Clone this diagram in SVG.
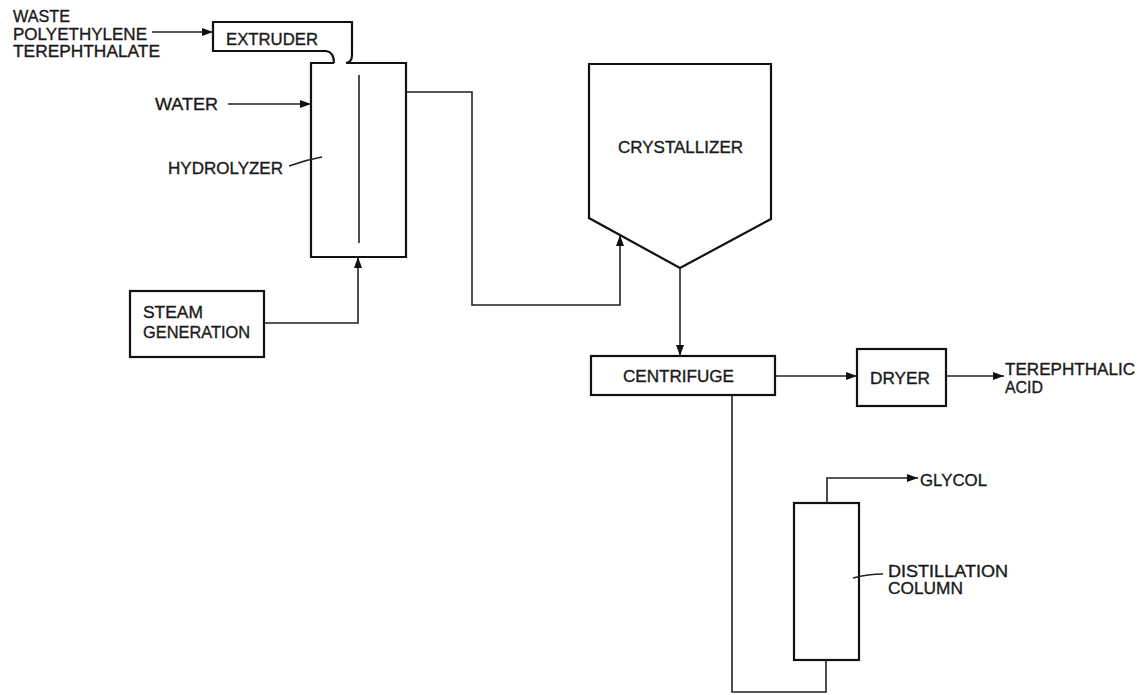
<svg xmlns="http://www.w3.org/2000/svg" width="1143" height="695" viewBox="0 0 1143 695">
<defs>
<style>
.box{fill:none;stroke:#111;stroke-width:2.2;stroke-linejoin:miter}
.ln{fill:none;stroke:#222;stroke-width:1.6}
.ld{fill:none;stroke:#222;stroke-width:1.4}
text{font-family:"Liberation Sans",Arial,sans-serif;font-size:16.5px;fill:#1a1a1a;stroke:#1a1a1a;stroke-width:0.35}
</style>
<marker id="ah" viewBox="0 0 11 8" refX="11" refY="4" markerWidth="11" markerHeight="8" markerUnits="userSpaceOnUse" orient="auto">
<path d="M0,0 L11,4 L0,8 Z" fill="#111"/>
</marker>
</defs>
<rect width="1143" height="695" fill="#fff"/>

<g id="feed-pet">
<text x="13" y="22" textLength="57" lengthAdjust="spacingAndGlyphs">WASTE</text>
<text x="13" y="40" textLength="134" lengthAdjust="spacingAndGlyphs">POLYETHYLENE</text>
<text x="13" y="57" textLength="147" lengthAdjust="spacingAndGlyphs">TEREPHTHALATE</text>
</g>

<g id="extruder">
<path class="box" d="M326,51 H213 V22 H352 V55 Q352,62 346,63"/>
<path class="box" d="M326,51 Q334,52 334,63"/>
<text x="226" y="45" textLength="92" lengthAdjust="spacingAndGlyphs">EXTRUDER</text>
</g>

<g id="hydrolyzer">
<path class="box" d="M334,63 H311 V257 H406 V63 H346"/>
<line class="ln" x1="359" y1="75" x2="359" y2="243"/>
<text x="168" y="174" textLength="115" lengthAdjust="spacingAndGlyphs">HYDROLYZER</text>
<path class="ld" d="M289,166 Q305,160 322,157"/>
</g>

<g id="water">
<text x="155" y="110" textLength="63" lengthAdjust="spacingAndGlyphs">WATER</text>
</g>

<g id="steam-generation">
<rect class="box" x="130" y="291" width="134" height="66"/>
<text x="143" y="318" textLength="60" lengthAdjust="spacingAndGlyphs">STEAM</text>
<text x="143" y="338" textLength="107" lengthAdjust="spacingAndGlyphs">GENERATION</text>
</g>

<g id="crystallizer">
<polygon class="box" points="589,64 771,64 771,219 680,268 589,218"/>
<text x="618" y="153" textLength="125" lengthAdjust="spacingAndGlyphs">CRYSTALLIZER</text>
</g>

<g id="centrifuge">
<rect class="box" x="591" y="356" width="184" height="39"/>
<text x="623" y="382" textLength="111" lengthAdjust="spacingAndGlyphs">CENTRIFUGE</text>
</g>

<g id="dryer">
<rect class="box" x="857" y="349" width="89" height="57"/>
<text x="870" y="384" textLength="60" lengthAdjust="spacingAndGlyphs">DRYER</text>
</g>

<g id="terephthalic-acid">
<text x="1005" y="375" textLength="130" lengthAdjust="spacingAndGlyphs">TEREPHTHALIC</text>
<text x="1005" y="393" textLength="38" lengthAdjust="spacingAndGlyphs">ACID</text>
</g>

<g id="distillation-column">
<rect class="box" x="794" y="503" width="65" height="157"/>
<path class="ld" d="M853,578 Q868,574 883,574"/>
<text x="888" y="577" textLength="120" lengthAdjust="spacingAndGlyphs">DISTILLATION</text>
<text x="888" y="594" textLength="75" lengthAdjust="spacingAndGlyphs">COLUMN</text>
</g>

<g id="glycol">
<text x="920" y="486" textLength="67" lengthAdjust="spacingAndGlyphs">GLYCOL</text>
</g>

<g id="connectors">
<path class="ln" d="M152,32 H213" marker-end="url(#ah)"/>
<path class="ln" d="M228,104 H311" marker-end="url(#ah)"/>
<path class="ln" d="M264,323 H358 V257" marker-end="url(#ah)"/>
<path class="ln" d="M406,92 H472 V305 H620 V235" marker-end="url(#ah)"/>
<path class="ln" d="M680,268 V356" marker-end="url(#ah)"/>
<path class="ln" d="M775,376 H857" marker-end="url(#ah)"/>
<path class="ln" d="M946,376 H1004" marker-end="url(#ah)"/>
<path class="ln" d="M732,395 V692 H826 V660"/>
<path class="ln" d="M827,503 V478 H918" marker-end="url(#ah)"/>
</g>
</svg>
